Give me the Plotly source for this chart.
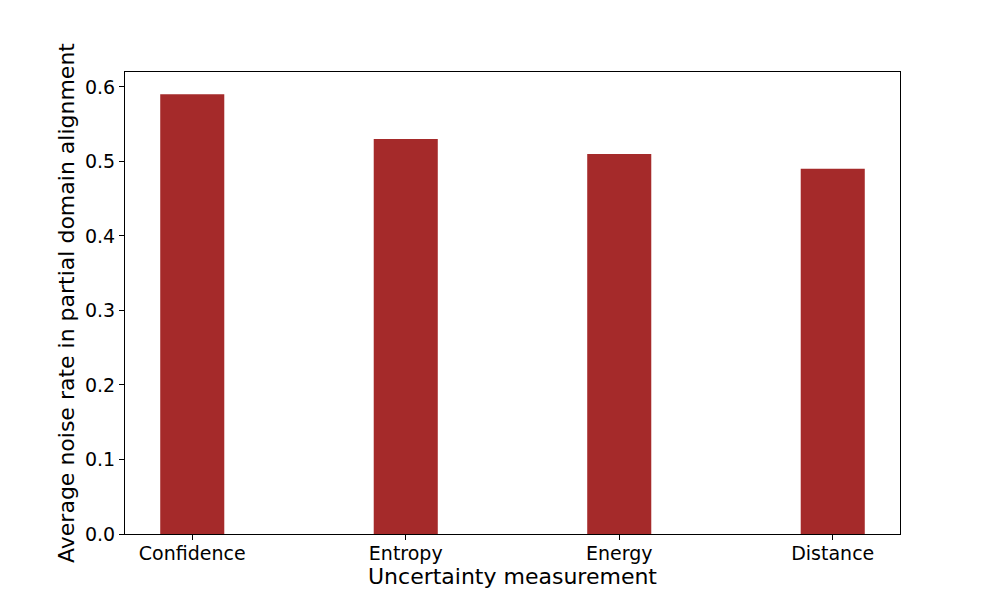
import plotly.graph_objects as go

categories = ["Confidence", "Entropy", "Energy", "Distance"]
values = [0.59, 0.53, 0.51, 0.49]
y_ticks = [0.0, 0.1, 0.2, 0.3, 0.4, 0.5, 0.6]

fig = go.Figure()
fig.add_trace(go.Bar(
    x=list(range(len(categories))), y=values, width=0.3,
    marker=dict(color="#A52A2A", line=dict(width=0)),
))

font = "DejaVu Sans"
fig.update_layout(
    width=1000, height=600,
    margin=dict(l=117, r=108, t=64, b=74),
    plot_bgcolor="white", paper_bgcolor="white",
    showlegend=False,
    font=dict(family=font, color="black"),
)
fig.update_xaxes(
    range=[-0.315, 3.315],
    tickmode="array", tickvals=list(range(len(categories))), ticktext=categories,
    ticks="outside", ticklen=5, tickwidth=1, tickcolor="black",
    ticklabelstandoff=-3,
    tickfont=dict(size=19, family=font),
    showline=True, linecolor="black", linewidth=1, mirror=True,
    showgrid=False, zeroline=False,
    title=dict(text="Uncertainty measurement", font=dict(size=22, family=font), standoff=1),
)
fig.update_yaxes(
    range=[0, 0.62],
    tickmode="array", tickvals=y_ticks, ticktext=[f"{v:.1f}" for v in y_ticks],
    ticks="outside", ticklen=5, tickwidth=1, tickcolor="black",
    tickfont=dict(size=19, family=font),
    showline=True, linecolor="black", linewidth=1, mirror=True,
    showgrid=False, zeroline=False,
    title=dict(text="Average noise rate in partial domain alignment", font=dict(size=22, family=font), standoff=4),
)
fig.write_html("out.html")
